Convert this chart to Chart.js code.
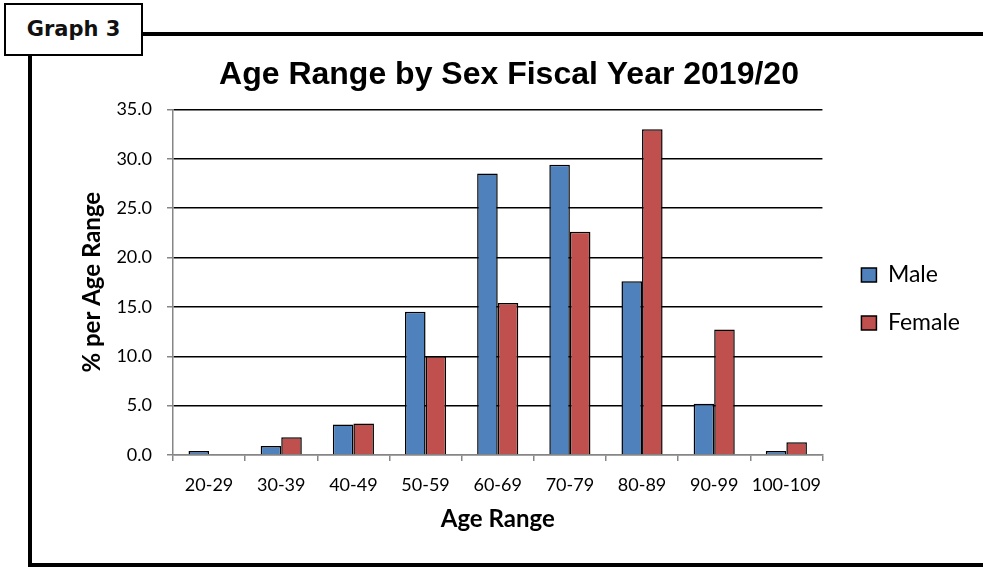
<!DOCTYPE html>
<html>
<head>
<meta charset="utf-8">
<script src="https://cdn.jsdelivr.net/npm/chart.js@4.4.1/dist/chart.umd.min.js"></script>
<style>
	html, body { margin: 0; padding: 0; background: #fff; }
	body { width: 983px; height: 567px; position: relative; overflow: hidden; }
	#tab {
		position: absolute; left: 4px; top: 3px; width: 135px; height: 49px;
		border: 2px solid #000; text-align: center;
		font: bold 21px "DejaVu Sans", sans-serif; line-height: 49px; color: #111;
	}
	.rule { position: absolute; background: #000; }
	#wrap { position: absolute; left: 36px; top: 38px; width: 946px; height: 522px; }
</style>
</head>
<body>
<div id="tab">Graph 3</div>
<div class="rule" style="left:143px; top:32px; width:840px; height:4px;"></div>
<div class="rule" style="left:28px; top:56px; width:4px; height:511px;"></div>
<div class="rule" style="left:28px; top:563px; width:955px; height:4px;"></div>
<div id="wrap"><canvas id="ageChart" width="946" height="522"></canvas></div>
<script>
// age bands and % share per sex
const ageRanges = ['20-29', '30-39', '40-49', '50-59', '60-69', '70-79', '80-89', '90-99', '100-109'];
const malePct = [0.4, 0.9, 3.1, 14.5, 28.5, 29.4, 17.6, 5.2, 0.4];
const femalePct = [0, 1.8, 3.2, 10.0, 15.4, 22.6, 33.0, 12.7, 1.3];
const yTicks = [0, 5, 10, 15, 20, 25, 30, 35];

const axisGray = '#868686';

Chart.defaults.font.family = 'Lato';
Chart.defaults.color = '#000';

//	push the legend a bit further from the plot
const legendShift = {
	id: 'legendShift',
	afterLayout(chart) {
		chart.legend.left += 14;
		chart.legend.right += 14;
	}
};

const ctx = document.getElementById('ageChart').getContext('2d');
const ageChart = new Chart(ctx, {
	type: 'bar',
	data: {
		labels: ageRanges,
		datasets: [{
			label: 'Male',
			data: malePct,
			backgroundColor: '#4F81BD',
			borderColor: '#000',
			borderWidth: 1.5,
			categoryPercentage: 0.57,
			barPercentage: 1.0
		}, {
			label: 'Female',
			data: femalePct,
			backgroundColor: '#C0504D',
			borderColor: '#000',
			borderWidth: 1.5,
			categoryPercentage: 0.57,
			barPercentage: 1.0
		}]
	},
	plugins: [legendShift],
	options: {
		responsive: false,
		animation: false,
		layout: { padding: { left: 26, right: 26 } },
		plugins: {
			title: {
				display: true,
				text: 'Age Range by Sex Fiscal Year 2019/20',
				font: { family: '"Liberation Sans", Arial', size: 32, weight: 'bold' },
				padding: { top: 18, bottom: 15 }
			},
			legend: {
				position: 'right',
				labels: {
					boxWidth: 15,
					boxHeight: 14,
					padding: 25,
					font: { size: 23 }
				}
			},
			tooltip: { enabled: false }
		},
		scales: {
			x: {
				afterFit: scale => { scale.height = 105; },
				grid: {
					drawOnChartArea: false,
					tickLength: 6,
					tickColor: axisGray,
					lineWidth: 1.5
				},
				border: { color: axisGray, width: 1.5 },
				ticks: { padding: 13, maxRotation: 0, minRotation: 0, autoSkip: false, font: { size: 18 } },
				title: {
					display: true,
					text: 'Age Range',
					font: { size: 24, weight: 'bold' },
					padding: { bottom: 26 }
				}
			},
			y: {
				min: 0,
				max: 35,
				afterFit: scale => { scale.width = 111; },
				afterBuildTicks: scale => { scale.ticks = yTicks.map(v => ({ value: v })); },
				grid: {
					color: c => (c.tick && c.tick.value === 0) ? axisGray : '#000',
					lineWidth: 1.5,
					tickLength: 6,
					tickColor: axisGray
				},
				border: { color: axisGray, width: 1.5 },
				ticks: {
					padding: 15,
					font: { size: 18 },
					callback: v => Number(v).toFixed(1)
				},
				title: {
					display: true,
					text: '% per Age Range',
					font: { size: 24, weight: 'bold' },
					padding: { top: 16 }
				}
			}
		}
	}
});
</script>
</body>
</html>
